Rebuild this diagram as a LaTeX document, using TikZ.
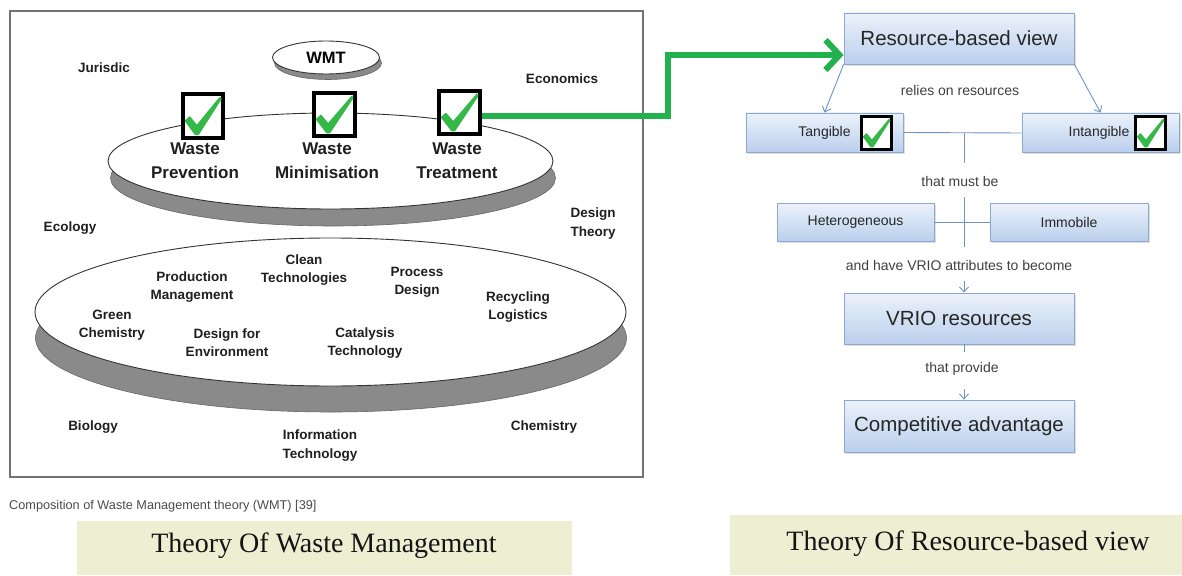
\documentclass[tikz,border=0pt]{standalone}
\usepackage{fontspec}
\setmainfont{Liberation Sans}
\newfontfamily\serifb{Liberation Serif}
\usetikzlibrary{shapes.geometric,arrows.meta,shadows,calc}
\definecolor{gline}{RGB}{34,177,76}
\definecolor{tickc}{RGB}{52,184,72}
\definecolor{bfr}{RGB}{140,168,208}
\definecolor{btop}{RGB}{236,242,251}
\definecolor{bbot}{RGB}{186,207,236}
\definecolor{connc}{RGB}{110,148,196}
\definecolor{bannerc}{RGB}{238,239,210}
\definecolor{shad}{RGB}{138,138,138}
\newcommand\tickmark[3]{%
  \begin{scope}[shift={(#1.center)}, x=#2pt, y=-#3pt]
    \fill[tickc, rounded corners=0.6pt] (-0.42,0.10) -- (-0.30,0.00) -- (-0.14,0.18) -- (0.38,-0.40) -- (0.43,-0.36) -- (-0.10,0.40) -- (-0.18,0.40) -- cycle;
  \end{scope}}
\tikzset{
  lbl/.style={font=\bfseries\fontsize{13.5}{18}\selectfont, align=center, text=black!88, inner sep=0},
  bigl/.style={font=\bfseries\fontsize{17}{24}\selectfont, align=center, text=black!88, inner sep=0},
  disc/.style={ellipse, draw=black!80, fill=white, line width=0.9pt, inner sep=0},
  discsh/.style={ellipse, draw=black!60, fill=shad, line width=0.6pt, inner sep=0},
  cbox/.style={draw=black, line width=4pt, fill=white, inner sep=0, drop shadow={shadow xshift=1.5pt,shadow yshift=-1.5pt,opacity=0.4}},
  rbox/.style={draw=bfr, line width=0.8pt, top color=btop, bottom color=bbot, inner sep=0, text=black!85, drop shadow={shadow xshift=2pt, shadow yshift=-2pt, opacity=0.25}},
  rtext/.style={font=\fontsize{14}{16}\selectfont, text=black!75, inner sep=0},
  cline/.style={draw=connc, line width=0.9pt},
  carrow/.style={cline, -{Straight Barb[length=5pt,width=9pt]}},
}
\begin{document}
\begin{tikzpicture}[x=1pt,y=-1pt]
\useasboundingbox (0,0) rectangle (1182,575);
\fill[white] (0,0) rectangle (1182,575);
% ---------- left diagram ----------
\node[draw=black!55, line width=1.2pt, minimum width=633pt, minimum height=466pt, inner sep=0] (frame) at (326.5,244) {};
\node[discsh, minimum width=107pt, minimum height=33pt] (wmts) at (328,63) {};
\node[disc, minimum width=107pt, minimum height=33pt, font=\bfseries\fontsize{16.5}{18}\selectfont] (wmt) at (326,57.5) {WMT};
\node[discsh, minimum width=445pt, minimum height=96pt] (d1s) at (333,178) {};
\node[disc, minimum width=445pt, minimum height=96pt] (d1) at (330.5,161) {};
\node[discsh, minimum width=591pt, minimum height=148pt] (d2s) at (331,338) {};
\node[disc, minimum width=591pt, minimum height=148pt] (d2) at (330.5,312) {};

\node[bigl] (wp) at (195,161) {Waste\\Prevention};
\node[bigl] (wm) at (327,161) {Waste\\Minimisation};
\node[bigl] (wt) at (457,161) {Waste\\Treatment};

\node[cbox, minimum width=40pt, minimum height=44pt] (cb1) at (203,116) {};
\node[cbox, minimum width=41pt, minimum height=43pt] (cb2) at (334.5,114.5) {};
\node[cbox, minimum width=41pt, minimum height=43pt] (cb3) at (459.5,112.5) {};
\tickmark{cb1}{44}{48}
\tickmark{cb2}{45}{47}
\tickmark{cb3}{45}{47}

\node[lbl] (jur) at (104,68) {Jurisdic};
\node[lbl] (econ) at (562,79) {Economics};
\node[lbl] (ecol) at (70,228) {Ecology};
\node[lbl, font=\bfseries\fontsize{13.5}{19}\selectfont] (dth) at (593,224) {Design\\Theory};
\node[lbl] (bio) at (93,427) {Biology};
\node[lbl, font=\bfseries\fontsize{13.5}{19}\selectfont] (inft) at (320,446) {Information\\Technology};
\node[lbl] (chem) at (544,427) {Chemistry};

\node[lbl] (clean) at (304,270) {Clean\\Technologies};
\node[lbl] (prod) at (192,287.5) {Production\\Management};
\node[lbl] (proc) at (417,282) {Process\\Design};
\node[lbl] (recy) at (518,307) {Recycling\\Logistics};
\node[lbl] (green) at (112,325) {Green\\Chemistry};
\node[lbl] (dfe) at (227,343) {Design for\\Environment};
\node[lbl] (cat) at (365,343) {Catalysis\\Technology};

\node[anchor=west, font=\fontsize{12.7}{14}\selectfont, text=black!70, inner sep=0] (cap) at (9,506) {Composition of Waste Management theory (WMT) [39]};

\node[fill=bannerc, minimum width=495pt, minimum height=54pt, inner sep=0] (ban1) at (324.5,548) {};
\node[font=\serifb\fontsize{28}{32}\selectfont, text=black!92, inner sep=0] (ban1t) at (324,546) {Theory Of Waste Management};

% ---------- right diagram ----------
\node[rbox, minimum width=230pt, minimum height=51pt, font=\fontsize{20.5}{24}\selectfont] (rbv) at (959,38.5) {Resource-based view};
\node[rbox, minimum width=157pt, minimum height=39pt, font=\fontsize{14}{16}\selectfont] (tang) at (824.5,132.5) {Tangible};
\node[rbox, minimum width=157pt, minimum height=39pt, font=\fontsize{14}{16}\selectfont] (intang) at (1100.5,132.5) {\hspace*{-3pt}Intangible};
\node[rbox, minimum width=157pt, minimum height=38pt, font=\fontsize{14}{16}\selectfont] (het) at (855.5,222) {Heterogeneous};
\node[rbox, minimum width=158pt, minimum height=38pt, font=\fontsize{14}{16}\selectfont] (imm) at (1069,222) {Immobile};
\node[rbox, minimum width=230pt, minimum height=51pt, font=\fontsize{20.5}{24}\selectfont] (vrio) at (959,318.5) {VRIO resources};
\node[rbox, minimum width=230pt, minimum height=52pt, font=\fontsize{20.5}{24}\selectfont] (comp) at (959,426) {Competitive advantage};

\node[cbox, line width=3.5pt, minimum width=30pt, minimum height=33pt] (cbt) at (876.5,133) {};
\node[cbox, line width=3.5pt, minimum width=30pt, minimum height=33pt] (cbi) at (1150.5,133) {};
\tickmark{cbt}{33}{36}
\tickmark{cbi}{33}{36}

\draw[carrow] (rbv.south west) -- (tang.north);
\draw[carrow] (rbv.south east) -- (intang.north);
\node[rtext] (relies) at (960,90) {relies on resources};
\draw[cline] (tang.east) -- (cbt.east -| intang.west);
\coordinate (jn) at (964,132.5);
\coordinate (v1) at (964,163);
\coordinate (v2) at (964,197);
\coordinate (v3) at (964,247);
\coordinate (v4) at (964,281);
\coordinate (v5) at (964,352);
\coordinate (v6) at (964,389);
\draw[cline] (jn) -- (v1);
\node[rtext] (must) at (960,181) {that must be};
\draw[cline] (v2) -- (v3);
\draw[cline] (het.east) -- (imm.west);
\node[rtext] (attr) at (959,265) {and have VRIO attributes to become};
\draw[carrow] (v4) -- (vrio.north -| v4);
\draw[cline] (vrio.south -| v5) -- (v5);
\node[rtext] (prov) at (962,369) {that provide};
\draw[carrow] (v6) -- (comp.north -| v6);

\node[fill=bannerc, minimum width=452pt, minimum height=60pt, inner sep=0] (ban2) at (956,545) {};
\node[font=\serifb\fontsize{28}{32}\selectfont, text=black!92, inner sep=0] (ban2t) at (968,544) {Theory Of Resource-based view};

% ---------- green link ----------
\coordinate (g1) at (668,116);
\coordinate (g2) at (668,55);
\draw[gline, line width=6pt, -{Straight Barb[length=14pt,width=30pt]}] (cb3.east |- g1) -- (g1) -- (g2) -- (rbv.west |- g2);
\end{tikzpicture}
\end{document}
